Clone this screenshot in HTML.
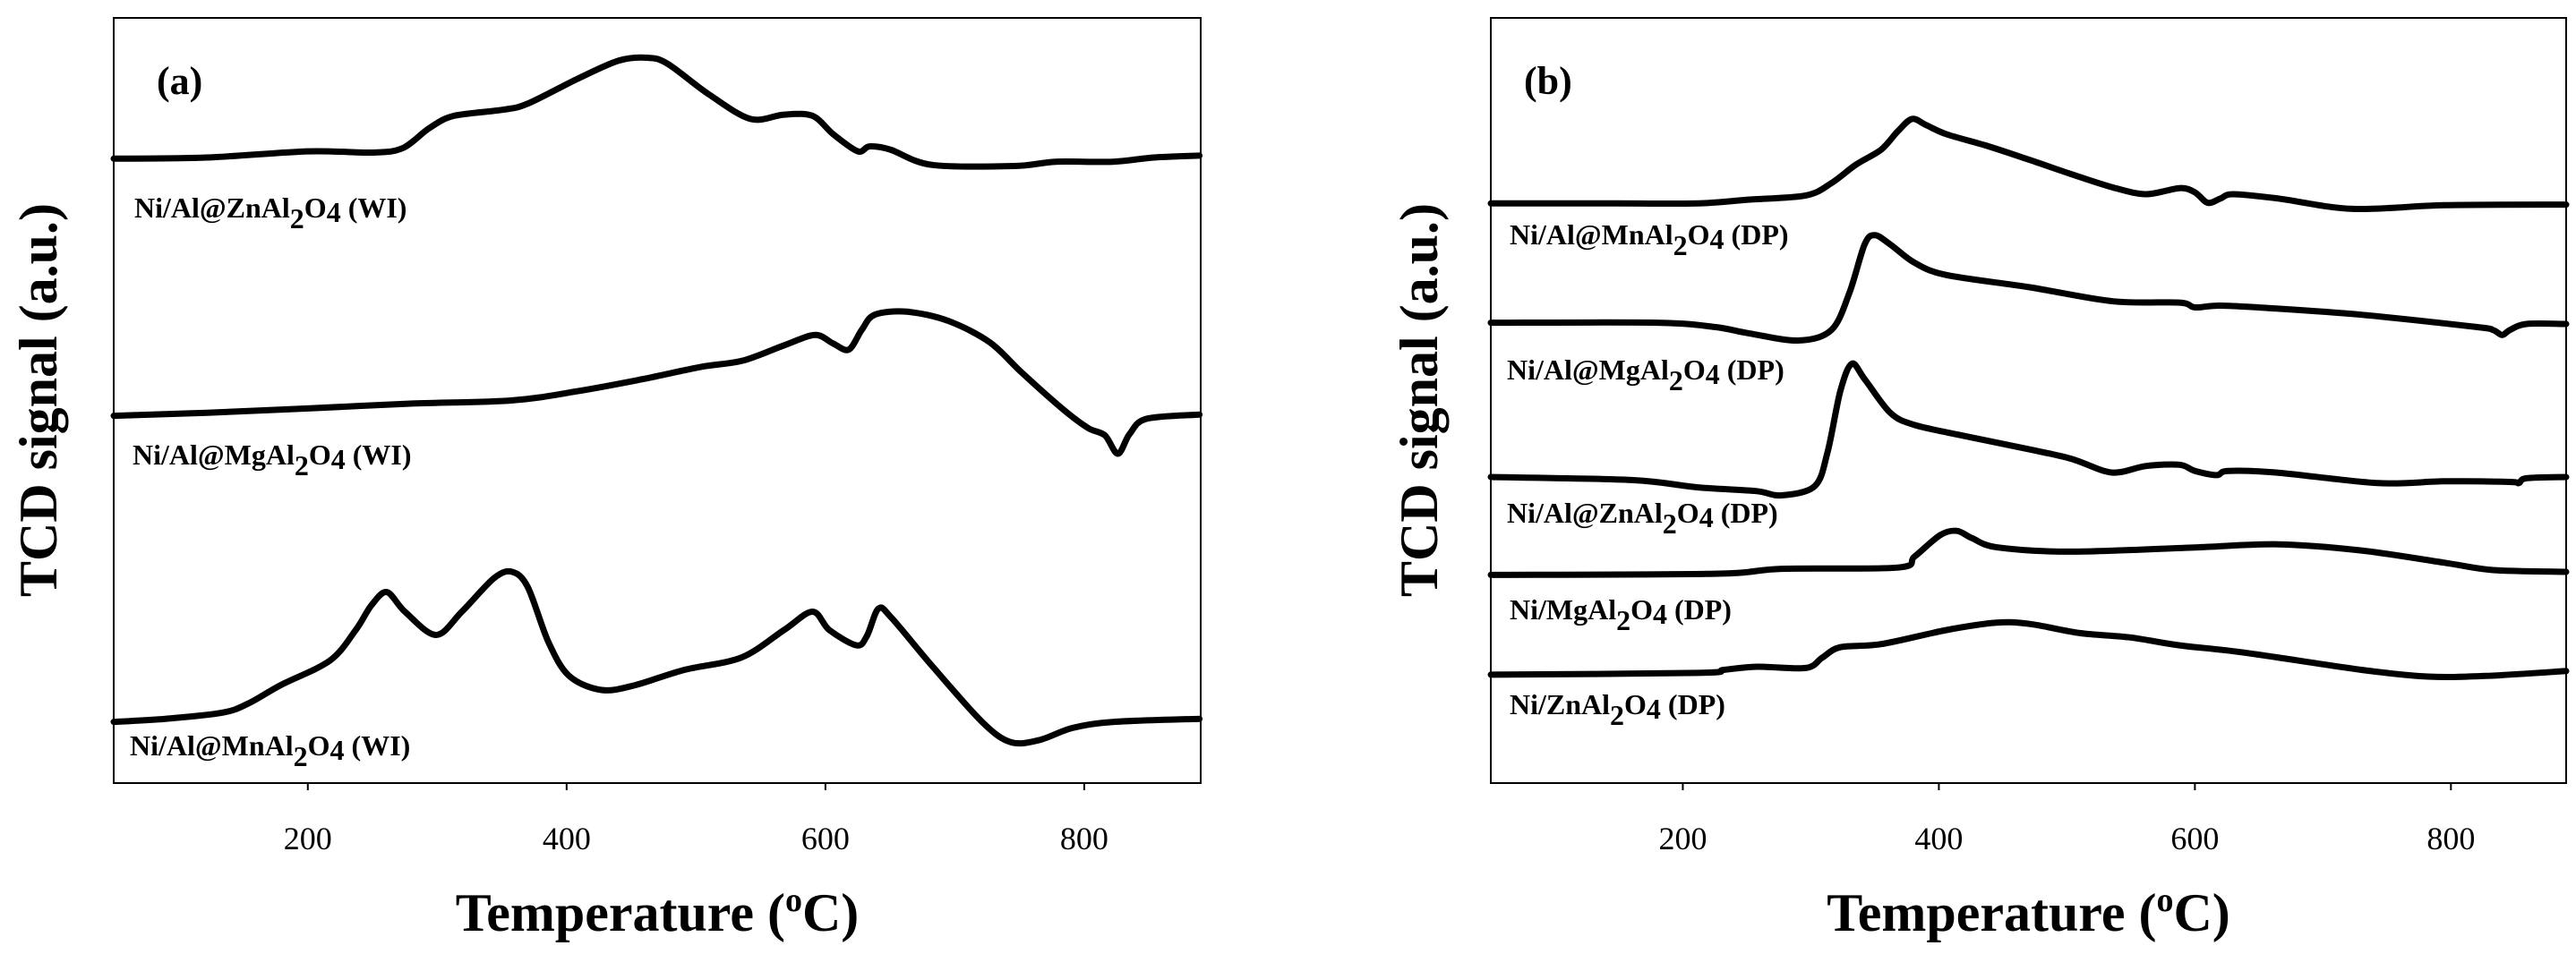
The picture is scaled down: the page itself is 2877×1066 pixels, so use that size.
<!DOCTYPE html>
<html><head><meta charset="utf-8"><style>
html,body{margin:0;padding:0;background:#fff;}
svg{display:block;font-family:"Liberation Serif",serif;}
</style></head><body>
<svg id="fig" width="2877" height="1066" viewBox="0 0 2877 1066" xmlns="http://www.w3.org/2000/svg">
<g id="pa"></g>
<g id="pb"></g>
</svg>
<script>
// ---- data (temperature in °C, signal in a.u.) ----
const xTicks = [200, 400, 600, 800];
const xDomain = [50, 890];
const yDomain = [0, 1250];

const aZnT = [50,122,200,249,273,294,313,351,370,408,440,462,478,510,542,568,590,606,625,634,650,682,746,778,822,854,889];
const aZnV = [1020,1022,1032,1030,1037,1070,1090,1100,1110,1150,1180,1185,1175,1125,1085,1092,1090,1060,1032,1040,1035,1010,1008,1015,1015,1022,1025];
const aMgT = [50,122,200,281,357,408,459,504,536,568,592,606,618,628,638,663,695,727,752,784,803,816,826,835,848,889];
const aMgV = [600,605,612,620,625,640,660,680,690,715,732,718,708,740,765,770,755,720,670,610,580,568,538,570,595,602];
const aMnT = [50,90,134,154,179,217,237,249,261,275,299,319,344,358,370,386,402,427,453,491,535,568,590,603,624,632,641,651,683,721,743,765,791,823,889];
const aMnV = [100,105,115,130,160,200,250,290,312,280,242,280,335,345,320,230,175,152,160,185,205,250,280,250,225,240,285,270,190,100,67,70,90,100,105];

const bMnT = [50,148,212,251,296,316,335,355,368,379,390,406,439,471,503,536,562,588,600,610,620,630,665,723,795,890];
const bMnV = [947,947,947,953,960,980,1010,1035,1065,1085,1075,1060,1040,1018,995,973,962,972,965,948,955,962,955,938,944,945];
const bMgT = [50,180,225,251,290,316,330,342,350,362,381,406,471,536,588,600,620,665,730,820,833,840,846,859,890];
const bMgV = [752,752,745,735,723,740,800,880,895,880,850,830,810,787,785,777,780,775,765,745,740,732,740,750,750];
const bZnT = [50,160,212,257,277,303,313,323,332,342,362,381,420,471,503,529,542,562,588,600,617,626,665,743,795,846,853,859,890];
const bZnV = [500,495,483,477,470,485,540,640,685,660,605,585,567,545,530,510,508,518,520,510,503,510,507,490,493,492,490,498,500];
const bNiMgT = [50,225,277,368,381,401,414,426,446,504,600,665,730,795,833,890];
const bNiMgV = [340,342,350,352,370,405,412,400,385,378,385,390,380,360,348,345];
const bNiZnT = [50,212,232,258,296,309,323,355,406,445,471,510,549,588,639,730,782,827,890];
const bNiZnV = [177,180,185,190,188,205,222,227,250,262,260,245,238,225,213,185,174,175,183];

const NS = "http://www.w3.org/2000/svg";
function mk(parent, tag, attrs, text){
  const e = document.createElementNS(NS, tag);
  for (const k in attrs) e.setAttribute(k, attrs[k]);
  if (text !== undefined) e.textContent = text;
  parent.appendChild(e);
  return e;
}
function smoothPath(pts){
  let d = "M" + pts[0][0].toFixed(1) + "," + pts[0][1].toFixed(1);
  for (let i = 0; i < pts.length - 1; i++){
    const p0 = pts[Math.max(0,i-1)], p1 = pts[i], p2 = pts[i+1], p3 = pts[Math.min(pts.length-1,i+2)];
    const t = 0.16;
    const c1x = p1[0] + (p2[0]-p0[0])*t, c1y = p1[1] + (p2[1]-p0[1])*t;
    const c2x = p2[0] - (p3[0]-p1[0])*t, c2y = p2[1] - (p3[1]-p1[1])*t;
    d += " C" + c1x.toFixed(1)+","+c1y.toFixed(1)+" "+c2x.toFixed(1)+","+c2y.toFixed(1)+" "+p2[0].toFixed(1)+","+p2[1].toFixed(1);
  }
  return d;
}

function panel(g, cfg){
  const L = cfg.left, R = cfg.right, T = 20, B = 875;
  const xs = v => L + (v - xDomain[0]) / (xDomain[1] - xDomain[0]) * (R - L);
  const ys = v => B - (v - yDomain[0]) / (yDomain[1] - yDomain[0]) * (B - T);
  const frame = mk(g, "rect", {x:L, y:T, width:R-L, height:B-T, fill:"none", stroke:"#000", "stroke-width":2});
  
  
  xTicks.forEach(t => {
    const tk = mk(g, "line", {x1:xs(t), x2:xs(t), y1:B, y2:B+8, stroke:"#000", "stroke-width":2});
    
    
    const tl = mk(g, "text", {x:xs(t), y:949, "text-anchor":"middle", "font-size":36}, String(t));
    
    
  });
  const xt = mk(g, "text", {x:(L+R)/2, y:1040, "text-anchor":"middle", "font-size":60, "font-weight":"bold"});
  
  
  xt.innerHTML = 'Temperature (<tspan font-size="38" dy="-22">o</tspan><tspan dy="22">C)</tspan>';
  const yt = mk(g, "text", {x:0, y:0, "text-anchor":"middle", "font-size":60, "font-weight":"bold",
    transform:"translate("+cfg.yLabelX+",447) rotate(-90)"}, "TCD signal (a.u.)");
  
  
  const pl = mk(g, "text", {x:cfg.tagX, y:105, "font-size":44, "font-weight":"bold"}, cfg.tag);
  
  
  cfg.series.forEach(s => {
    const pts = s.t.map((t,i) => [xs(t), ys(s.v[i])]);
    const p = mk(g, "path", {d:smoothPath(pts), fill:"none", stroke:"#000", "stroke-width":7, "stroke-linejoin":"round", "stroke-linecap":"round"});
    
    
    const lb = mk(g, "text", {x:s.lx, y:s.ly, "font-size":32, "font-weight":"bold"});
    
    
    lb.innerHTML = s.label;
  });
}
const chem = (pre, suf) => pre + '<tspan dy="12">2</tspan><tspan dy="-12">O</tspan><tspan dy="5">4</tspan><tspan dy="-5"> ' + suf + '</tspan>';
panel(document.getElementById("pa"), {
  left:127, right:1341, yLabelX:63, tag:"(a)", tagX:175,
  series:[
    {name:"curve-ni-al-znal2o4-wi", t:aZnT, v:aZnV, lx:150, ly:243, label:chem('Ni/Al@ZnAl','(WI)')},
    {name:"curve-ni-al-mgal2o4-wi", t:aMgT, v:aMgV, lx:148, ly:519, label:chem('Ni/Al@MgAl','(WI)')},
    {name:"curve-ni-al-mnal2o4-wi", t:aMnT, v:aMnV, lx:145, ly:844, label:chem('Ni/Al@MnAl','(WI)')}
  ]
});
panel(document.getElementById("pb"), {
  left:1665, right:2866, yLabelX:1605, tag:"(b)", tagX:1702,
  series:[
    {name:"curve-ni-al-mnal2o4-dp", t:bMnT, v:bMnV, lx:1686, ly:273, label:chem('Ni/Al@MnAl','(DP)')},
    {name:"curve-ni-al-mgal2o4-dp", t:bMgT, v:bMgV, lx:1683, ly:424, label:chem('Ni/Al@MgAl','(DP)')},
    {name:"curve-ni-al-znal2o4-dp", t:bZnT, v:bZnV, lx:1683, ly:584, label:chem('Ni/Al@ZnAl','(DP)')},
    {name:"curve-ni-mgal2o4-dp", t:bNiMgT, v:bNiMgV, lx:1686, ly:692, label:chem('Ni/MgAl','(DP)')},
    {name:"curve-ni-znal2o4-dp", t:bNiZnT, v:bNiZnV, lx:1686, ly:798, label:chem('Ni/ZnAl','(DP)')}
  ]
});
</script>
</body></html>
